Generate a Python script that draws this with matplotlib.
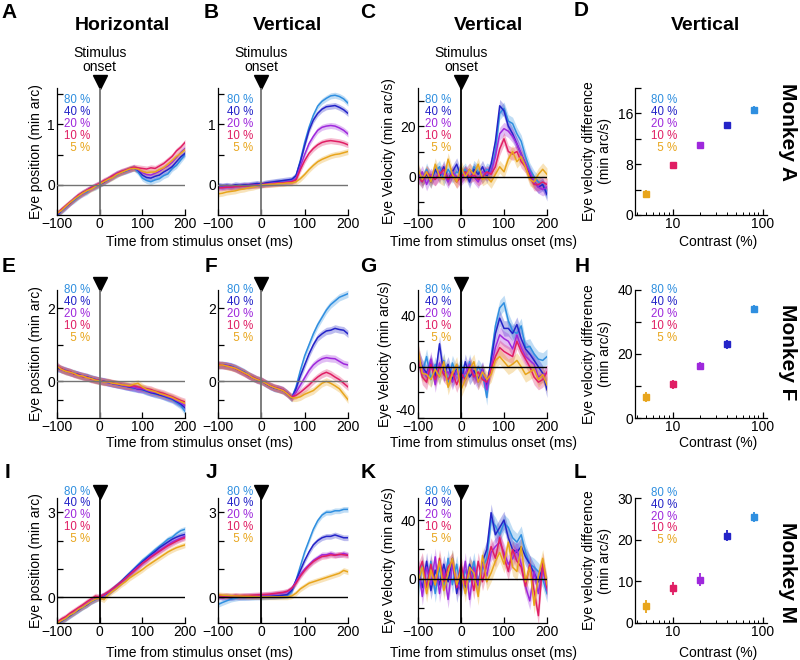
import numpy as np
import matplotlib
matplotlib.use('Agg')
import matplotlib.pyplot as plt
from matplotlib.ticker import NullFormatter

plt.rcParams['font.family'] = ['Liberation Sans', 'DejaVu Sans']

# ---- data ----
t = np.arange(-100, 201, 10)
contrast = [80, 40, 20, 10, 5]
labels = ['80 %', '40 %', '20 %', '10 %', ' 5 %']
colors = ['#2f8fe0', '#2424c8', '#9e28dc', '#e01e64', '#e8a51c']

# monkey A, horizontal position (min arc)
posA_h = [
    [-0.52,-0.44,-0.38,-0.30,-0.26,-0.20,-0.15,-0.12,-0.06,-0.04,0.00,0.05,0.08,0.13,0.16,0.21,0.22,0.25,0.28,0.21,0.11,0.07,0.05,0.08,0.10,0.15,0.18,0.27,0.32,0.41,0.50],
    [-0.50,-0.43,-0.36,-0.31,-0.24,-0.19,-0.13,-0.10,-0.05,-0.02,0.01,0.04,0.10,0.13,0.18,0.20,0.23,0.26,0.28,0.24,0.16,0.12,0.11,0.14,0.16,0.21,0.25,0.30,0.38,0.46,0.52],
    [-0.49,-0.42,-0.37,-0.30,-0.23,-0.18,-0.15,-0.09,-0.06,-0.02,0.02,0.06,0.09,0.14,0.19,0.21,0.24,0.25,0.28,0.25,0.20,0.17,0.16,0.19,0.22,0.27,0.31,0.37,0.45,0.53,0.60],
    [-0.48,-0.41,-0.35,-0.29,-0.24,-0.17,-0.13,-0.09,-0.05,-0.01,0.02,0.07,0.10,0.15,0.18,0.22,0.24,0.27,0.29,0.28,0.27,0.26,0.28,0.27,0.31,0.35,0.41,0.47,0.56,0.62,0.70],
    [-0.47,-0.43,-0.36,-0.30,-0.24,-0.19,-0.14,-0.10,-0.07,-0.03,0.01,0.05,0.09,0.12,0.17,0.20,0.23,0.26,0.27,0.26,0.22,0.20,0.21,0.21,0.25,0.28,0.34,0.40,0.47,0.52,0.58],
]
# monkey A, vertical position (min arc)
posA_v = [
    [-0.02,-0.03,-0.02,-0.03,-0.02,-0.02,-0.01,-0.02,0.00,0.01,0.00,0.02,0.03,0.04,0.05,0.05,0.06,0.07,0.15,0.40,0.70,0.95,1.15,1.30,1.38,1.43,1.47,1.48,1.46,1.42,1.35],
    [-0.01,-0.02,-0.01,-0.02,0.00,-0.01,0.00,0.00,0.01,0.02,0.01,0.03,0.04,0.05,0.06,0.07,0.08,0.09,0.15,0.38,0.65,0.90,1.07,1.18,1.25,1.29,1.30,1.31,1.28,1.24,1.18],
    [-0.04,-0.04,-0.03,-0.04,-0.03,-0.02,-0.02,-0.01,-0.01,0.00,0.00,0.01,0.02,0.03,0.03,0.04,0.05,0.06,0.10,0.30,0.50,0.68,0.80,0.90,0.95,0.97,0.98,0.97,0.94,0.90,0.84],
    [-0.05,-0.05,-0.04,-0.04,-0.03,-0.03,-0.02,-0.02,-0.01,-0.01,0.00,0.01,0.01,0.02,0.03,0.03,0.04,0.05,0.08,0.25,0.40,0.52,0.60,0.66,0.70,0.72,0.73,0.72,0.71,0.69,0.66],
    [-0.15,-0.14,-0.12,-0.11,-0.10,-0.08,-0.07,-0.05,-0.04,-0.02,0.00,0.00,0.01,0.01,0.02,0.02,0.03,0.03,0.05,0.10,0.17,0.25,0.32,0.38,0.42,0.45,0.48,0.50,0.51,0.53,0.55],
]
# monkey A, vertical velocity (min arc/s)
velA = [
    [1,-2,3,-1,2,4,-1,3,0,2,1,3,-1,4,2,0,3,2,10,25,27,22,21,17,14,8,3,0,-2,-3,-6],
    [2,-1,1,-2,3,0,4,-1,2,5,0,2,-2,3,1,4,0,5,14,28,26,20,17,13,9,5,1,-2,-4,-3,-7],
    [-1,2,-3,1,-1,2,1,-2,2,0,-1,1,3,0,-2,2,1,2,8,17,19,18,16,13,9,5,2,-2,-4,-5,-4],
    [0,-2,2,0,-1,1,3,-1,1,-2,0,2,0,1,-1,0,2,1,4,11,15,10,9,10,6,4,0,-3,-3,-2,-3],
    [3,-1,2,-2,5,0,-1,7,1,-2,4,0,3,1,5,-1,0,-2,1,4,2,7,10,6,8,4,-1,-2,1,3,1],
]
diffA = [16.5, 14.1, 11.0, 7.8, 3.3]
errA = [0.6, 0.6, 0.5, 0.6, 0.6]

# monkey F
posF_h = [
    [0.38,0.33,0.31,0.25,0.23,0.18,0.15,0.13,0.08,0.06,0.02,0.01,-0.04,-0.05,-0.09,-0.10,-0.14,-0.15,-0.19,-0.19,-0.23,-0.28,-0.30,-0.35,-0.36,-0.41,-0.46,-0.50,-0.58,-0.66,-0.82],
    [0.36,0.34,0.28,0.26,0.21,0.19,0.14,0.12,0.09,0.04,0.03,0.00,-0.02,-0.06,-0.07,-0.11,-0.12,-0.16,-0.17,-0.21,-0.22,-0.26,-0.31,-0.33,-0.37,-0.40,-0.44,-0.48,-0.55,-0.62,-0.72],
    [0.45,0.32,0.30,0.24,0.22,0.17,0.16,0.11,0.07,0.05,0.01,-0.01,-0.03,-0.05,-0.08,-0.09,-0.13,-0.14,-0.16,-0.20,-0.20,-0.24,-0.28,-0.30,-0.33,-0.38,-0.42,-0.46,-0.52,-0.58,-0.66],
    [0.40,0.35,0.29,0.27,0.20,0.18,0.13,0.12,0.06,0.05,0.02,0.00,-0.02,-0.04,-0.07,-0.08,-0.11,-0.13,-0.12,-0.15,-0.18,-0.20,-0.22,-0.27,-0.30,-0.33,-0.38,-0.42,-0.47,-0.52,-0.56],
    [0.42,0.33,0.28,0.25,0.22,0.16,0.15,0.10,0.08,0.03,0.02,-0.02,-0.01,-0.05,-0.06,-0.09,-0.10,-0.12,-0.08,-0.05,-0.15,-0.22,-0.25,-0.28,-0.33,-0.36,-0.40,-0.44,-0.50,-0.55,-0.60],
]
posF_v = [
    [0.45,0.46,0.44,0.42,0.38,0.32,0.26,0.18,0.12,0.06,0.02,-0.05,-0.12,-0.18,-0.20,-0.24,-0.32,-0.45,-0.15,0.30,0.70,1.00,1.30,1.55,1.75,1.95,2.10,2.20,2.30,2.35,2.40],
    [0.44,0.45,0.43,0.41,0.36,0.30,0.25,0.17,0.10,0.05,0.01,-0.06,-0.13,-0.18,-0.21,-0.25,-0.34,-0.46,-0.20,0.15,0.45,0.75,1.00,1.20,1.30,1.38,1.40,1.45,1.42,1.40,1.30],
    [0.46,0.44,0.44,0.40,0.37,0.31,0.24,0.16,0.11,0.04,0.02,-0.04,-0.12,-0.17,-0.19,-0.23,-0.33,-0.44,-0.30,-0.10,0.10,0.30,0.45,0.55,0.62,0.65,0.63,0.62,0.55,0.48,0.45],
    [0.47,0.45,0.42,0.40,0.35,0.29,0.23,0.17,0.12,0.06,0.03,-0.05,-0.11,-0.16,-0.20,-0.24,-0.33,-0.42,-0.38,-0.30,-0.20,-0.10,0.02,0.12,0.20,0.25,0.20,0.12,0.05,-0.05,-0.15],
    [0.44,0.45,0.42,0.39,0.36,0.30,0.24,0.18,0.10,0.05,0.01,-0.05,-0.12,-0.17,-0.21,-0.25,-0.34,-0.45,-0.45,-0.42,-0.35,-0.30,-0.25,-0.15,-0.05,0.00,-0.05,-0.12,-0.20,-0.35,-0.50],
]
velF = [
    [5,-5,8,-10,2,-8,5,-12,3,-6,2,-10,4,-8,0,-5,-24,8,32,46,50,36,28,26,32,15,16,10,6,5,8],
    [8,0,-5,4,-8,18,-6,2,-10,-2,-12,4,-8,-3,-10,-2,-15,5,26,38,30,30,26,33,22,14,10,5,0,-5,-18],
    [12,-2,-8,6,-14,3,-5,-4,-12,-3,-8,-5,2,-6,-12,-2,-18,0,15,25,22,20,14,25,15,8,5,2,-8,-6,-5],
    [6,-8,-12,2,-10,0,-6,-10,-4,-14,-5,-10,0,-8,-4,-10,-12,-2,8,15,12,10,8,20,12,6,0,-8,-12,-10,-4],
    [14,-5,-6,-10,-2,-8,4,-16,-5,2,-18,-10,-2,4,-12,-4,-10,-6,5,8,4,0,2,5,0,-6,-4,-2,-10,-6,-14],
]
diffF = [34.0, 23.0, 16.3, 10.5, 6.6]
errF = [1.2, 1.4, 1.3, 1.5, 1.5]

# monkey M
posM_h = [
    [-0.95,-0.85,-0.76,-0.65,-0.55,-0.45,-0.35,-0.25,-0.15,-0.08,0.00,0.07,0.15,0.28,0.40,0.55,0.70,0.85,1.00,1.15,1.30,1.42,1.55,1.68,1.80,1.92,2.05,2.12,2.25,2.35,2.40],
    [-0.92,-0.84,-0.73,-0.64,-0.53,-0.44,-0.33,-0.26,-0.14,-0.06,0.01,0.08,0.16,0.30,0.42,0.55,0.70,0.84,0.98,1.12,1.25,1.38,1.50,1.62,1.75,1.85,1.95,2.05,2.12,2.18,2.22],
    [-0.90,-0.80,-0.72,-0.60,-0.52,-0.40,-0.32,-0.22,-0.12,-0.05,0.02,0.08,0.18,0.28,0.40,0.52,0.66,0.80,0.95,1.08,1.20,1.32,1.45,1.55,1.65,1.75,1.85,1.95,2.02,2.08,2.15],
    [-0.88,-0.76,-0.68,-0.56,-0.46,-0.36,-0.26,-0.15,-0.05,0.05,0.02,0.10,0.20,0.30,0.42,0.54,0.66,0.80,0.92,1.05,1.20,1.30,1.42,1.52,1.62,1.72,1.82,1.90,1.98,2.05,2.10],
    [-0.92,-0.82,-0.74,-0.62,-0.54,-0.42,-0.34,-0.24,-0.14,-0.06,-0.02,-0.08,0.10,0.22,0.32,0.45,0.55,0.68,0.78,0.88,0.98,1.10,1.20,1.30,1.40,1.50,1.60,1.68,1.75,1.80,1.85],
]
posM_v = [
    [-0.25,-0.18,-0.12,-0.06,-0.03,0.00,-0.01,0.01,0.00,0.02,0.01,0.02,0.03,0.03,0.04,0.05,0.06,0.20,0.60,1.10,1.60,2.00,2.40,2.70,2.90,3.00,3.00,3.05,3.05,3.10,3.10],
    [0.02,0.00,0.01,-0.01,0.02,0.01,0.02,0.01,0.03,0.02,0.03,0.04,0.04,0.05,0.06,0.08,0.10,0.25,0.60,0.95,1.30,1.60,1.85,2.00,2.10,2.15,2.15,2.20,2.15,2.10,2.10],
    [0.05,0.04,0.05,0.03,0.05,0.04,0.05,0.06,0.06,0.07,0.08,0.09,0.10,0.12,0.14,0.16,0.20,0.32,0.55,0.80,1.00,1.15,1.30,1.40,1.50,1.50,1.55,1.50,1.50,1.55,1.50],
    [0.06,0.05,0.06,0.05,0.07,0.06,0.07,0.07,0.08,0.09,0.10,0.11,0.12,0.14,0.16,0.18,0.22,0.32,0.50,0.75,0.95,1.12,1.26,1.36,1.44,1.46,1.50,1.48,1.52,1.50,1.48],
    [0.10,0.08,0.07,0.06,0.05,0.05,0.04,0.04,0.03,0.03,0.02,0.02,0.02,0.02,0.02,0.02,0.02,0.05,0.15,0.30,0.40,0.50,0.55,0.60,0.65,0.70,0.75,0.80,0.85,0.95,0.90],
]
velM = [
    [-8,10,-5,12,-10,8,-6,14,-4,10,-8,6,-2,12,-4,8,14,40,36,30,38,35,28,25,30,18,10,8,5,0,-10],
    [5,-6,12,-8,6,-4,10,-2,14,-10,4,-6,10,2,-4,12,20,45,30,35,40,28,20,18,22,15,10,4,-2,8,-5],
    [10,-12,8,-4,15,-10,6,-14,10,-2,-8,12,-14,8,-4,10,2,18,22,25,18,10,14,20,10,-5,-15,5,-10,8,-8],
    [4,12,-6,10,-4,14,-2,8,12,-6,10,-4,6,-8,12,-2,10,22,14,28,15,5,20,12,8,-5,10,-8,-25,12,-6],
    [-2,8,-10,6,-4,12,-8,4,14,-4,6,-10,8,4,-12,16,-2,4,12,18,10,25,8,5,22,-2,8,-18,2,14,-4],
]
diffM = [25.5, 21.0, 10.4, 8.3, 4.0]
errM = [1.2, 1.3, 1.5, 1.5, 1.5]

# ---- layout (pixels of an 800x660 canvas) ----
W, H = 800, 660
col_l = [57, 218, 418, 635]
col_w = [128, 130, 129, 132]
row_t = [88, 290, 498]
row_h = [127, 128, 125]
leg_top = [0.905, 1.0, 1.05]
xlab_y = [242, 443, 653]

fig = plt.figure(figsize=(8, 6.6), dpi=100)


def make_ax(r, c):
    return fig.add_axes([col_l[c] / W, 1 - (row_t[r] + row_h[r]) / H,
                         col_w[c] / W, row_h[r] / H])


def style(ax):
    for s in ['top', 'right']:
        ax.spines[s].set_visible(False)
    for s in ['left', 'bottom']:
        ax.spines[s].set_linewidth(0.9)
    ax.tick_params(direction='in', length=4, width=0.9, labelsize=10, pad=1.5)
    ax.tick_params(which='minor', direction='in', length=2.5, width=0.7)


def legend(ax, xr, ytop):
    for i, (lab, c) in enumerate(zip(labels, colors)):
        ax.text(xr, ytop - i * 0.094, lab, color=c, fontsize=8.3,
                ha='right', va='center', transform=ax.transAxes)


def time_panel(ax, data, sem, ylim, yticks, ylabels, vcol, r, xr, onset=False):
    for y, c in zip(data, colors):
        y = np.array(y)
        ax.fill_between(t, y - sem, y + sem, color=c, alpha=0.3, lw=0)
    for y, c in zip(data, colors):
        ax.plot(t, y, color=c, lw=1.1)
    ax.axhline(0, color=vcol, lw=1.0, zorder=5)
    ax.axvline(0, color=vcol, lw=1.3, zorder=5)
    ax.plot([0], [1.045], marker='v', color='k', ms=10, clip_on=False,
            transform=ax.get_xaxis_transform())
    if onset:
        ax.text(0, 1.22, 'Stimulus\nonset', ha='center', va='center',
                fontsize=10, linespacing=1.05, transform=ax.get_xaxis_transform())
    ax.set_xlim(-100, 200)
    ax.set_ylim(*ylim)
    ax.set_xticks([-100, 0, 100, 200])
    ax.set_yticks(yticks)
    ax.set_yticklabels(ylabels)
    style(ax)
    legend(ax, xr, leg_top[r])


def contrast_panel(ax, vals, errs, ylim, yticks, ylabels, r):
    for x, v, e, c in zip(contrast, vals, errs, colors):
        ax.errorbar(x, v, yerr=e, fmt='s', color=c, ms=4.5, elinewidth=1.3, capsize=0)
    ax.set_xscale('log')
    ax.set_xlim(3.8, 112)
    ax.set_xticks([10, 100])
    ax.set_xticklabels(['10', '100'])
    ax.xaxis.set_minor_formatter(NullFormatter())
    ax.set_ylim(*ylim)
    ax.set_yticks(yticks)
    ax.set_yticklabels(ylabels)
    style(ax)
    ax.set_ylabel('Eye velocity difference\n(min arc/s)', fontsize=10, labelpad=4)
    legend(ax, 0.32, leg_top[r] - (0.01 if r == 2 else 0))


pos_ticks = [0, 0.5, 1, 1.5]
rows = [
    (posA_h, posA_v, velA, diffA, errA,
     (-0.5, 1.6), pos_ticks, ['0', '', '1', ''], 0.05,
     (-15, 35), [-10, 0, 10, 20, 30], ['', '0', '', '20', ''], 2.5,
     (0, 20), [0, 4, 8, 12, 16, 20], ['0', '', '8', '', '16', '']),
    (posF_h, posF_v, velF, diffF, errF,
     (-1, 2.5), [-0.5, 0, 1, 2], ['', '0', '', '2'], 0.1,
     (-40, 60), [-40, -20, 0, 20, 40], ['-40', '', '0', '', '40'], 6,
     (0, 40), [0, 10, 20, 30, 40], ['0', '', '20', '', '40']),
    (posM_h, posM_v, velM, diffM, errM,
     (-0.9, 3.5), [0, 1, 2, 3], ['0', '', '', '3'], 0.1,
     (-30, 55), [-20, 0, 20, 40], ['', '0', '', '40'], 6,
     (0, 30), [0, 10, 20, 30], ['0', '10', '20', '30']),
]

for r, (ph, pv, vel, dv, de, pylim, pyt, pyl, psem,
        vylim, vyt, vyl, vsem, dylim, dyt, dyl) in enumerate(rows):
    gray = '0.45' if r < 2 else 'k'
    ax = make_ax(r, 0)
    time_panel(ax, ph, psem, pylim, pyt, pyl, gray, r, 0.26, onset=(r == 0))
    ax.set_ylabel('Eye position (min arc)', fontsize=10, labelpad=3)
    ax = make_ax(r, 1)
    time_panel(ax, pv, psem, pylim, pyt, pyl, gray, r, 0.27, onset=(r == 0))
    ax = make_ax(r, 2)
    time_panel(ax, vel, vsem, vylim, vyt, vyl, 'k', r, 0.256, onset=(r == 0))
    ax.set_ylabel('Eye Velocity (min arc/s)', fontsize=10, labelpad=3)
    if r == 1:
        # lift the bottom label off the x tick labels
        ax.get_yticklabels()[0].set_va('bottom')
    ax = make_ax(r, 3)
    contrast_panel(ax, dv, de, dylim, dyt, dyl, r)

# x labels
for y in xlab_y:
    fig.text(200 / W, 1 - y / H, 'Time from stimulus onset (ms)', ha='center', va='center', fontsize=10)
    fig.text(483 / W, 1 - y / H, 'Time from stimulus onset (ms)', ha='center', va='center', fontsize=10)
    fig.text(718 / W, 1 - y / H, 'Contrast (%)', ha='center', va='center', fontsize=10)

# titles
for x, s in [(122, 'Horizontal'), (287, 'Vertical'), (488, 'Vertical'), (705, 'Vertical')]:
    fig.text(x / W, 1 - 25 / H, s, ha='center', va='center', fontsize=14, fontweight='bold')

# panel letters
letters = [('A', 9, 12), ('B', 211, 12), ('C', 368, 12), ('D', 581, 11),
           ('E', 9, 267), ('F', 211, 267), ('G', 368, 267), ('H', 582, 267),
           ('I', 7, 472), ('J', 211, 472), ('K', 368, 472), ('L', 580, 473)]
for s, x, y in letters:
    fig.text(x / W, 1 - y / H, s, ha='center', va='center', fontsize=15, fontweight='bold')

# monkey labels
for s, y in [('Monkey A', 132), ('Monkey F', 352), ('Monkey M', 572)]:
    fig.text(788 / W, 1 - y / H, s, ha='center', va='center', rotation=-90,
             fontsize=15, fontweight='bold')

fig.savefig('out.png', dpi=100)
